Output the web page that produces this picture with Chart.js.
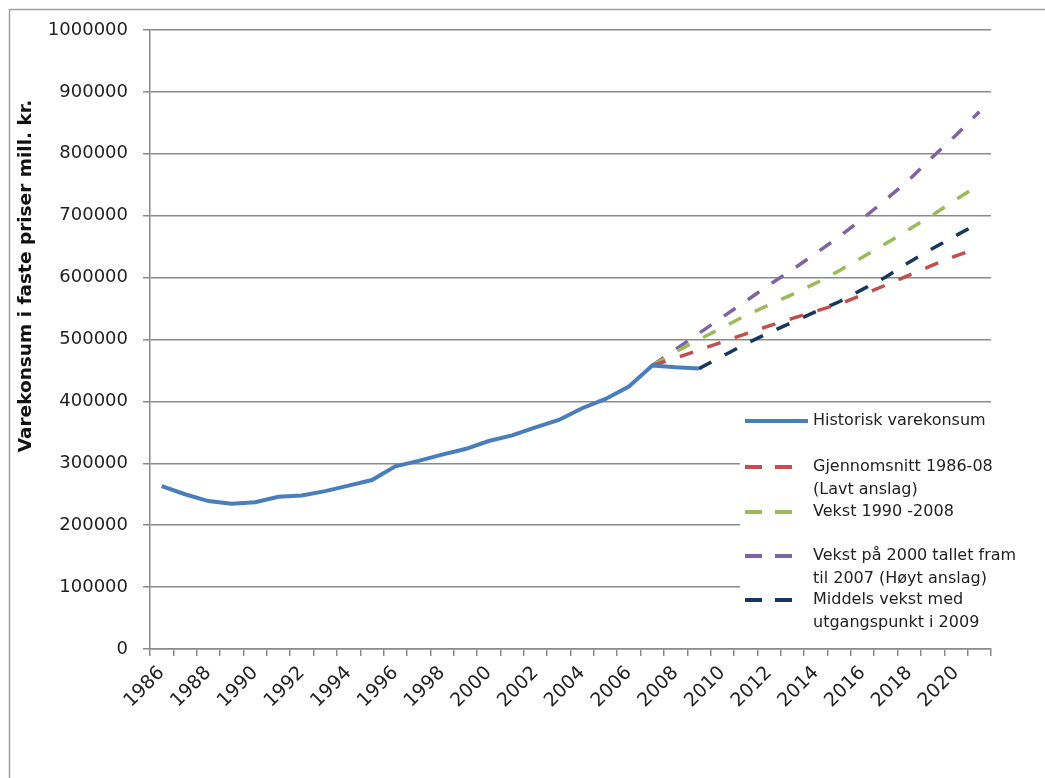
<!DOCTYPE html>
<html>
<head>
<meta charset="utf-8">
<script src="https://cdn.jsdelivr.net/npm/chart.js@4"></script>
<style>
  html, body { margin: 0; padding: 0; background: #fff; }
  canvas { display: block; }
</style>
</head>
<body>
<canvas id="chart" width="1045" height="778"></canvas>
<script>
/* ── data ── */
const years = [
  1986, 1987, 1988, 1989, 1990, 1991, 1992, 1993, 1994, 1995, 1996, 1997,
  1998, 1999, 2000, 2001, 2002, 2003, 2004, 2005, 2006, 2007, 2008, 2009,
  2010, 2011, 2012, 2013, 2014, 2015, 2016, 2017, 2018, 2019, 2020, 2021
];

/* 1986–2009 */
const historisk = [
  263000, 250000, 239000, 234500, 237000, 246000, 248000, 255000, 264000, 273000,
  295000, 304000, 314000, 323000, 336000, 345000, 358000, 370000, 389000, 404000,
  424000, 458000, 455000, 453000
];

/* 2007–2021 */
const lavt = [
  458000, 470000, 483000, 496000, 509000, 522000, 534000, 546000,
  557000, 572000, 588000, 604000, 620000, 635000, 648000
];
const vekst9008 = [
  458000, 480000, 500000, 519000, 539000, 556000, 573000, 591000,
  611000, 633000, 655000, 678000, 701000, 726000, 750000
];
const hoyt = [
  458000, 484000, 510000, 536000, 562000, 588000, 613000, 639000,
  666000, 695000, 726000, 758000, 795000, 830000, 868000
];

/* 2009–2021 */
const middels = [
  453000, 473000, 493000, 511000, 528000, 545000, 561000,
  581000, 601000, 625000, 647000, 668000, 688000
];

const yTicks = [0, 100000, 200000, 300000, 400000, 500000, 600000, 700000, 800000, 900000, 1000000];

const yTitle = 'Varekonsum i faste priser mill. kr.';

/* plasser en serie på riktig år (null ellers) */
function fromYear(startYear, values) {
  return years.map(y => {
    const i = y - startYear;
    return i >= 0 && i < values.length ? values[i] : null;
  });
}

const GRID = '#8a8a8a';
const FONT = 'DejaVu Sans';
const DASH = [14, 15];

const datasets = [
  { label: ['Historisk varekonsum'],                          data: fromYear(1986, historisk), borderColor: '#4A7EBB', borderWidth: 4, borderDash: [] },
  { label: ['Gjennomsnitt 1986-08', '(Lavt anslag)'],         data: fromYear(2007, lavt),      borderColor: '#C0504D', borderWidth: 3.5, borderDash: DASH },
  { label: ['Vekst 1990 -2008'],                              data: fromYear(2007, vekst9008), borderColor: '#9BBB59', borderWidth: 3.5, borderDash: DASH },
  { label: ['Vekst på 2000 tallet fram', 'til 2007 (Høyt anslag)'], data: fromYear(2007, hoyt), borderColor: '#8064A2', borderWidth: 3.5, borderDash: DASH },
  { label: ['Middels vekst med', 'utgangspunkt i 2009'],      data: fromYear(2009, middels),   borderColor: '#17375E', borderWidth: 3.5, borderDash: DASH },
].map(d => ({ ...d, pointRadius: 0, tension: 0, fill: false, spanGaps: false }));

/* ── ramme, y-tittel og forklaring ── */
const extras = {
  id: 'extras',
  afterDraw(chart) {
    const ctx = chart.ctx;
    ctx.save();

    /* ramme */
    ctx.strokeStyle = '#a0a0a0';
    ctx.lineWidth = 1.5;
    ctx.beginPath();
    ctx.moveTo(9.5, 778);
    ctx.lineTo(9.5, 9.5);
    ctx.lineTo(1045, 9.5);
    ctx.stroke();

    /* y-tittel */
    ctx.save();
    ctx.translate(26, 276);
    ctx.rotate(-Math.PI / 2);
    ctx.font = `bold 18.5px "${FONT}"`;
    ctx.fillStyle = '#111';
    ctx.textAlign = 'center';
    ctx.textBaseline = 'middle';
    ctx.fillText(yTitle, 0, 0);
    ctx.restore();

    /* forklaring */
    ctx.fillStyle = '#fff';
    ctx.fillRect(740, 405, 305, 235);

    const rows = [421, 467, 512, 556, 600];
    const lineH = 22.5;
    ctx.font = `16px "${FONT}"`;
    ctx.textAlign = 'left';
    ctx.textBaseline = 'middle';
    chart.data.datasets.forEach((ds, i) => {
      const y = rows[i];
      ctx.strokeStyle = ds.borderColor;
      ctx.lineWidth = 4;
      ctx.setLineDash(ds.borderDash.length ? [17, 13] : []);
      ctx.beginPath();
      ctx.moveTo(745, y);
      ctx.lineTo(ds.borderDash.length ? 792 : 808, y);
      ctx.stroke();
      ctx.setLineDash([]);
      ctx.fillStyle = '#222';
      ds.label.forEach((t, k) => ctx.fillText(t, 813, y + k * lineH));
    });

    ctx.restore();
  }
};

new Chart(document.getElementById('chart'), {
  type: 'line',
  data: { labels: years, datasets },
  options: {
    responsive: false,
    animation: false,
    devicePixelRatio: 1,
    layout: { padding: { top: 30, right: 54, left: 0, bottom: 0 } },
    plugins: {
      legend: { display: false },
      tooltip: { enabled: false },
    },
    scales: {
      x: {
        type: 'category',
        offset: true,
        grid: { offset: true, drawOnChartArea: false, drawTicks: true, tickLength: 7, color: GRID, lineWidth: 1.5 },
        border: { color: GRID, width: 1.5 },
        ticks: {
          autoSkip: false,
          maxRotation: 45,
          minRotation: 45,
          padding: 6,
          color: '#222',
          font: { family: FONT, size: 19 },
          callback: (v, i) => (i % 2 === 0 ? String(years[i]) : ''),
        },
        afterFit: s => { s.height = 129; },
      },
      y: {
        min: 0,
        max: 1000000,
        afterBuildTicks: s => { s.ticks = yTicks.map(v => ({ value: v })); },
        grid: { color: GRID, lineWidth: 1.5, tickLength: 7 },
        border: { color: GRID, width: 1.5 },
        ticks: {
          padding: 15,
          color: '#222',
          font: { family: FONT, size: 18 },
          callback: v => String(v),
        },
        afterFit: s => { s.width = 150; },
      },
    },
  },
  plugins: [extras],
});
</script>
</body>
</html>
